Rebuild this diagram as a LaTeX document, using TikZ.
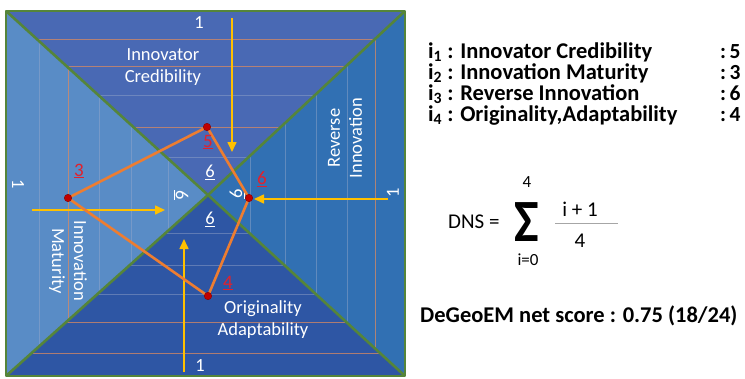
\documentclass[tikz,border=0pt]{standalone}
\usepackage{fontspec}
\setmainfont{Carlito}
\usetikzlibrary{arrows.meta}

\definecolor{topblue}{HTML}{4969B4}
\definecolor{leftblue}{HTML}{598CC6}
\definecolor{rightblue}{HTML}{3170B3}
\definecolor{botblue}{HTML}{2E56A4}
\definecolor{edgegreen}{HTML}{55853A}
\definecolor{pathorange}{HTML}{ED7D31}
\definecolor{arrowyellow}{HTML}{FFC000}
\definecolor{dotred}{HTML}{C00000}
\definecolor{labelred}{HTML}{E3202B}
\definecolor{gridorange}{HTML}{D98A62}
\definecolor{gridgray}{HTML}{9BAACB}

\tikzset{
  gridA/.style={draw=gridorange, line width=0.7pt, opacity=0.75},
  gridB/.style={draw=gridgray, line width=0.6pt, opacity=0.45},
  edge/.style={draw=edgegreen, line width=2.6pt, line join=round},
  yarrow/.style={draw=arrowyellow, line width=1.6pt,
    -{Triangle[length=10pt,width=9pt]}},
  score/.style={draw=pathorange, line width=2.6pt, line join=round},
  dot/.style={circle, fill=dotred, draw=dotred!70!black, line width=0.4pt,
    minimum size=7.5pt, inner sep=0pt},
  lab/.style={text=white, inner sep=0pt, font=\fontsize{18.5}{22}\selectfont},
  redlab/.style={text=labelred, inner sep=0pt, font=\fontsize{19}{22}\selectfont},
  blocktxt/.style={text=white, inner sep=0pt, align=center,
    font=\fontsize{18.5}{22}\selectfont},
  listtxt/.style={anchor=base west, inner sep=0pt,
    font=\bfseries\fontsize{22.5}{24}\selectfont},
  valtxt/.style={anchor=base west, inner sep=0pt,
    font=\bfseries\fontsize{21.5}{24}\selectfont},
  formtxt/.style={inner sep=0pt, font=\fontsize{21}{23}\selectfont},
  limtxt/.style={inner sep=0pt, font=\fontsize{17}{19}\selectfont},
}

\begin{document}
\begin{tikzpicture}[x=1pt,y=-1pt]
\useasboundingbox (0,0) rectangle (745,378);
\fill[white] (0,0) rectangle (745,378);

% corners of the square and the crossing of its diagonals
\coordinate (TL) at (6,11);
\coordinate (TR) at (405,11);
\coordinate (BR) at (405,376);
\coordinate (BL) at (6,376);
\coordinate (C) at (208,195);

% the four triangular sectors
\fill[topblue] (TL) -- (TR) -- (C) -- cycle;
\fill[leftblue] (TL) -- (C) -- (BL) -- cycle;
\fill[rightblue] (TR) -- (C) -- (BR) -- cycle;
\fill[botblue] (BL) -- (C) -- (BR) -- cycle;

% scale lines inside each sector
\begin{scope}
  \clip (TL) -- (TR) -- (C) -- cycle;
  \foreach \y/\s in {39/gridA,66/gridA,95/gridB,127/gridA,157/gridB}
    \draw[\s] (0,\y) -- (410,\y);
\end{scope}
\begin{scope}
  \clip (BL) -- (C) -- (BR) -- cycle;
  \foreach \y/\s in {233/gridB,265/gridB,294/gridB,322/gridA,353/gridA}
    \draw[\s] (0,\y) -- (410,\y);
\end{scope}
\begin{scope}
  \clip (TL) -- (C) -- (BL) -- cycle;
  \foreach \x/\s in {39/gridB,68/gridA,99/gridB,131/gridB,168/gridB}
    \draw[\s] (\x,0) -- (\x,380);
\end{scope}
\begin{scope}
  \clip (TR) -- (C) -- (BR) -- cycle;
  \foreach \x/\s in {250/gridB,285/gridB,316/gridB,347/gridB,375/gridA}
    \draw[\s] (\x,0) -- (\x,380);
\end{scope}

% outline and diagonals
\draw[edge] (TL) -- (C) -- (BR);
\draw[edge] (TR) -- (C) -- (BL);
\draw[edge] (TL) rectangle (BR);

% sector captions
\node[blocktxt] (capIC) at (163,67) {Innovator\\Credibility};
\node[blocktxt] (capOA) at (263,320) {Originality\\Adaptability};
\node[blocktxt, rotate=-90] (capIM) at (68,261) {Innovation\\Maturity};
\node[blocktxt, rotate=90] (capRI) at (345,138) {Reverse\\Innovation};

% outer scale values
\node[lab] (oneT) at (199,23) {1};
\node[lab] (oneB) at (200,366) {1};
\node[lab, rotate=-90] (oneL) at (18,184) {1};
\node[lab, rotate=90] (oneR) at (393,193) {1};

% inner scale values
\node[lab] (sixT) at (210,172) {\underline{6}};
\node[lab] (sixB) at (210,219) {\underline{6}};
\node[lab, rotate=-90] (sixL) at (181,195) {\underline{6}};
\node[lab, rotate=90] (sixR) at (237,194) {\underline{6}};

% reading direction arrows
\coordinate (aTs) at (232,18);  \coordinate (aTe) at (232,152);
\coordinate (aLs) at (32,210);  \coordinate (aLe) at (165,210);
\coordinate (aRs) at (388,199); \coordinate (aRe) at (254,199);
\coordinate (aBs) at (184,372); \coordinate (aBe) at (184,239);
\draw[yarrow] (aTs) -- (aTe);
\draw[yarrow] (aLs) -- (aLe);
\draw[yarrow] (aRs) -- (aRe);
\draw[yarrow] (aBs) -- (aBe);

% score polygon
\coordinate (qIC) at (207,127);
\coordinate (qIM) at (68,198);
\coordinate (qRI) at (249,198);
\coordinate (qOA) at (208,296);
\draw[score] (qIC) -- (qRI) -- (qOA) -- (qIM) -- cycle;
\node[dot] (pIC) at (qIC) {};
\node[dot] (pIM) at (qIM) {};
\node[dot] (pRI) at (qRI) {};
\node[dot] (pOA) at (qOA) {};

% scores
\node[redlab] (sIC) at (208,142) {\underline{5}};
\node[redlab] (sIM) at (79,171) {\underline{3}};
\node[redlab] (sRI) at (262,179) {\underline{6}};
\node[redlab] (sOA) at (228,283) {\underline{4}};

% legend
\node[listtxt] (i1) at (428,58) {i\textsubscript{1} : Innovator Credibility};
\node[listtxt] (i2) at (428,79) {i\textsubscript{2} : Innovation Maturity};
\node[listtxt] (i3) at (428,100) {i\textsubscript{3} : Reverse Innovation};
\node[listtxt] (i4) at (428,121) {i\textsubscript{4} : Originality,Adaptability};
\node[valtxt] (v1) at (720,58) {:\,5};
\node[valtxt] (v2) at (720,79) {:\,3};
\node[valtxt] (v3) at (720,100) {:\,6};
\node[valtxt] (v4) at (720,121) {:\,4};

% score formula
\node[formtxt, anchor=base west] (dns) at (448,228) {DNS =};
\node[inner sep=0pt, anchor=base, font=\bfseries\fontsize{60}{60}\selectfont,
  xscale=0.87] (sig) at (527,241) {Σ};
\node[limtxt] (sup) at (527,182) {4};
\node[limtxt] (sub) at (528,260) {i=0};
\node[formtxt] (num) at (580,209) {i + 1};
\node[formtxt] (den) at (580,241) {4};
\coordinate (fl) at (555,223);
\coordinate (fr) at (618,223);
\draw[gray!70, line width=0.6pt] (fl) -- (fr);

\node[listtxt] (net) at (420,322) {DeGeoEM net score : 0.75 (18/24)};
\end{tikzpicture}
\end{document}
